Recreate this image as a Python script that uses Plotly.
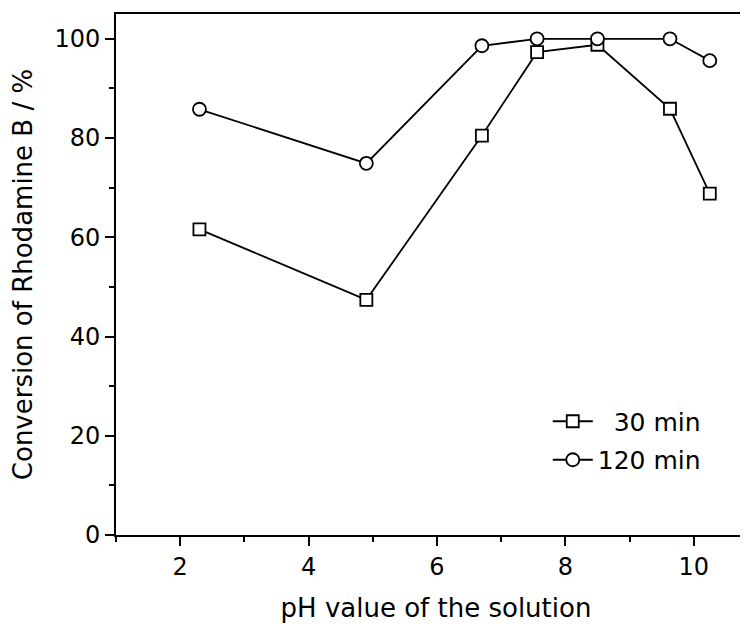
import plotly.graph_objects as go

ph = [2.3, 4.9, 6.7, 7.56, 8.5, 9.63, 10.25]
conv_30 = [61.6, 47.4, 80.5, 97.3, 98.8, 85.9, 68.8]
conv_120 = [85.8, 74.9, 98.6, 100.0, 100.0, 100.0, 95.6]
series_names = ["\u00a0\u00a030 min", "120 min"]

FONT = "DejaVu Sans"

fig = go.Figure()
fig.add_trace(go.Scatter(
    x=ph, y=conv_30, mode="lines+markers", name=series_names[0],
    legendgroup="a",
    line=dict(color="black", width=1.8),
    marker=dict(symbol="square", size=12, color="white",
                line=dict(color="black", width=1.8)),
))
fig.add_trace(go.Scatter(
    x=ph, y=conv_120, mode="lines+markers", name=series_names[1],
    legendgroup="b",
    line=dict(color="black", width=1.8),
    marker=dict(symbol="circle", size=13, color="white",
                line=dict(color="black", width=1.8)),
))

fig.update_layout(
    width=748, height=624,
    margin=dict(l=108, r=0, t=6, b=97),
    paper_bgcolor="white", plot_bgcolor="white",
    font=dict(family=FONT, color="black", size=24),
    showlegend=True,
    legend=dict(x=0.9215, y=0.262, xanchor="right", yanchor="top",
                bgcolor="rgba(0,0,0,0)", font=dict(size=25, family=FONT),
                itemwidth=40, tracegroupgap=3),
)
fig.update_xaxes(
    automargin=False,
    range=[1, 10.97], showline=True, linecolor="black", linewidth=1.8,
    mirror=True, showgrid=False, zeroline=False,
    ticks="outside", ticklen=9, tickwidth=1.5, tickcolor="black",
    tickvals=[2, 4, 6, 8, 10],
    minor=dict(ticks="outside", ticklen=5, tickwidth=1.5, tickcolor="black", dtick=1, tick0=1),
    tickfont=dict(size=24, family=FONT),
    title=dict(text="pH value of the solution", font=dict(size=26, family=FONT), standoff=19),
)
fig.update_yaxes(
    automargin=False,
    range=[0, 105], showline=True, linecolor="black", linewidth=1.8,
    mirror=False, showgrid=False, zeroline=False,
    ticks="outside", ticklen=9, tickwidth=1.5, tickcolor="black",
    tickvals=[0, 20, 40, 60, 80, 100],
    minor=dict(ticks="outside", ticklen=5, tickwidth=1.5, tickcolor="black", dtick=10, tick0=0),
    tickfont=dict(size=24, family=FONT),
    title=dict(text="Conversion of Rhodamine B / %", font=dict(size=26, family=FONT), standoff=15),
)

fig.write_html("out.html")
